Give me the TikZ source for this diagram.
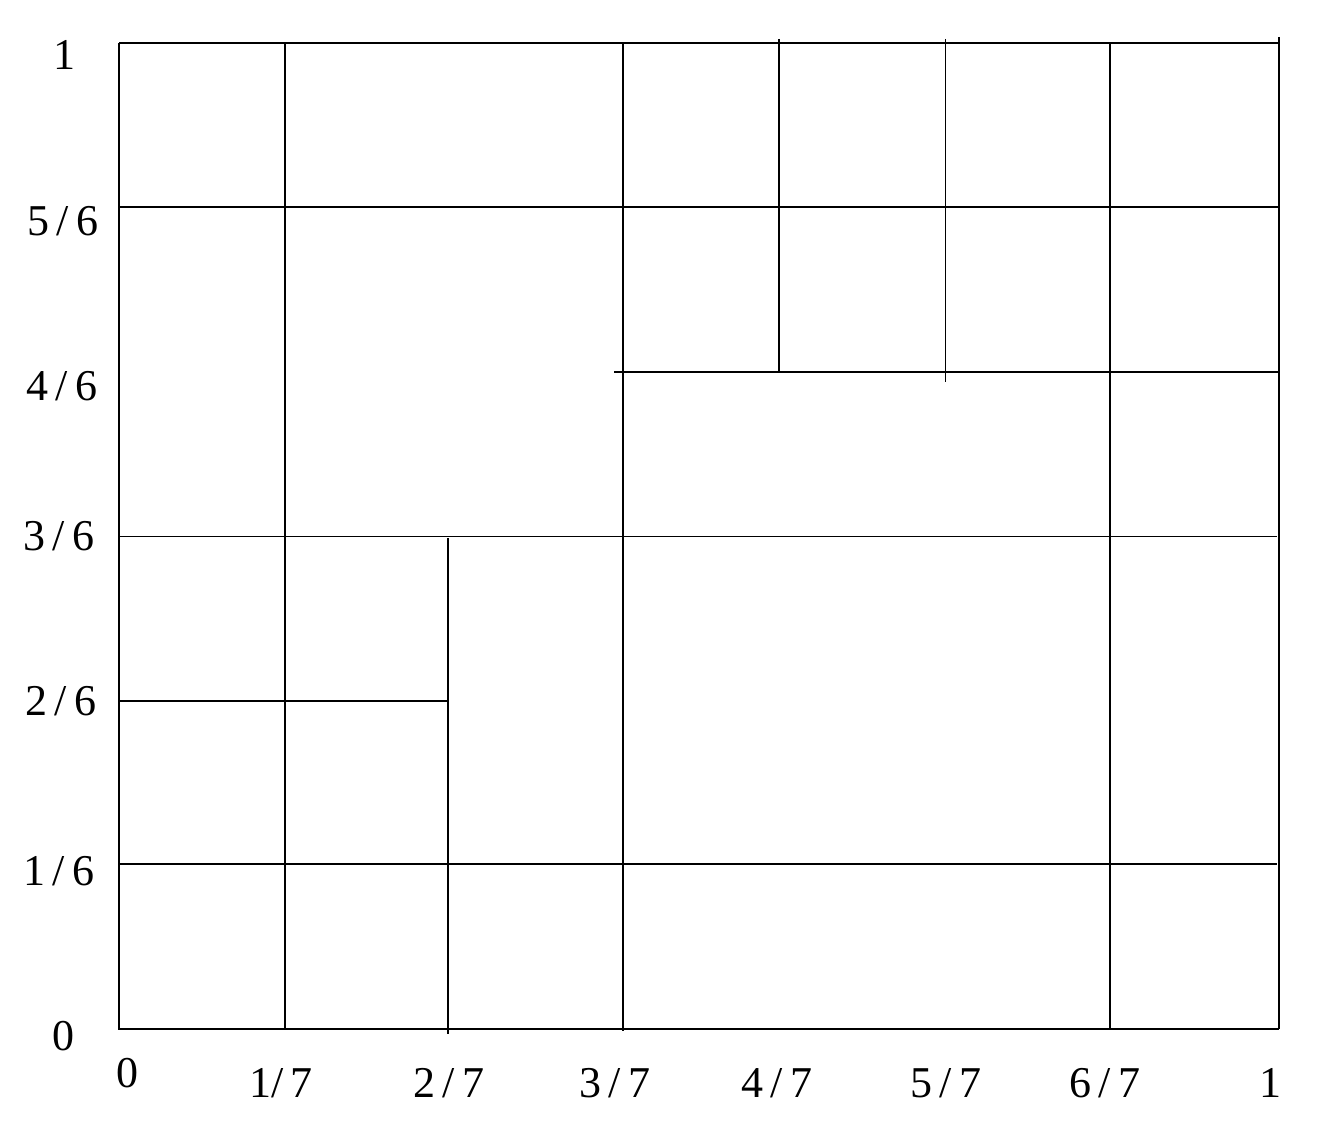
\documentclass[tikz,border=0pt]{standalone}
\usepackage{fontspec}
\setmainfont{Liberation Serif}
\begin{document}
\begin{tikzpicture}[x=1pt,y=-1pt,
  lab/.style={anchor=base,inner sep=0pt,font=\fontsize{44}{48}\selectfont},
  thk/.style={line width=2pt},
  thn/.style={line width=1pt}]
\useasboundingbox (0,0) rectangle (1325,1132);
% frame
\draw[thk] (119,43) -- (1279,43);
\draw[thk] (119,43) -- (119,1029) -- (1279,1029);
\draw[thk] (1279,37) -- (1279,1029);
% horizontals
\draw[thk] (119,207) -- (1279,207);
\draw[thk] (614,372) -- (1279,372);
\draw[thn] (119,536) -- (1277,536);
\draw[thk] (119,701) -- (448,701);
\draw[thk] (119,864) -- (1277,864);
% verticals
\draw[thk] (285,43) -- (285,1029);
\draw[thk] (448,538) -- (448,1034);
\draw[thk] (623,43) -- (623,1031);
\draw[thk] (779,39) -- (779,373);
\draw[thn] (945,39) -- (945,382);
\draw[thk] (1110,43) -- (1110,1029);
% y labels
\node[lab] (y1) at (64,70) {1};
\node[lab] (y5) at (63,235) {5\,/\,6};
\node[lab] (y4) at (62,400) {4\,/\,6};
\node[lab] (y3) at (59,550) {3\,/\,6};
\node[lab] (y2) at (61,715) {2\,/\,6};
\node[lab] (y1b) at (59,885) {1\,/\,6};
\node[lab] (y0) at (63,1050) {0};
% x labels
\node[lab] (x0) at (127,1087) {0};
\node[lab] (x1) at (281,1097) {1/\,7};
\node[lab] (x2) at (449,1097) {2\,/\,7};
\node[lab] (x3) at (615,1097) {3\,/\,7};
\node[lab] (x4) at (777,1097) {4\,/\,7};
\node[lab] (x5) at (946,1097) {5\,/\,7};
\node[lab] (x6) at (1105,1097) {6\,/\,7};
\node[lab] (x7) at (1270,1097) {1};
\end{tikzpicture}
\end{document}
